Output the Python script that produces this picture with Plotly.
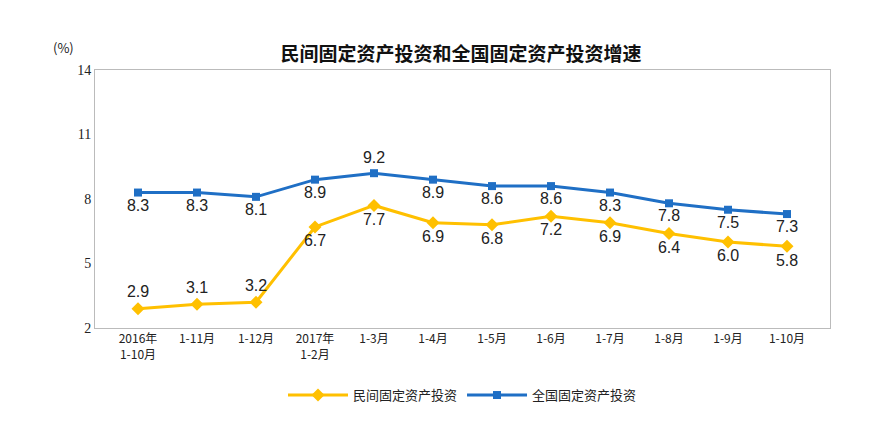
import plotly.graph_objects as go

categories = ["2016年<br>1-10月", "1-11月", "1-12月", "2017年<br>1-2月", "1-3月", "1-4月",
              "1-5月", "1-6月", "1-7月", "1-8月", "1-9月", "1-10月"]
private_inv = [2.9, 3.1, 3.2, 6.7, 7.7, 6.9, 6.8, 7.2, 6.9, 6.4, 6.0, 5.8]
national_inv = [8.3, 8.3, 8.1, 8.9, 9.2, 8.9, 8.6, 8.6, 8.3, 7.8, 7.5, 7.3]
y_ticks = [2, 5, 8, 11, 14]

font = "Noto Sans CJK SC"
priv_pos = ["top center"] * 3 + ["bottom center"] * 9
nat_pos = ["bottom center"] * 4 + ["top center"] + ["bottom center"] * 7

fig = go.Figure()
fig.add_trace(go.Scatter(x=categories, y=private_inv, name="民间固定资产投资",
    mode="lines+markers+text", text=[f"{v:.1f}" for v in private_inv], textposition=priv_pos,
    textfont=dict(size=16, color="#222", family="Arial"),
    line=dict(color="#FFC000", width=3), marker=dict(symbol="diamond", size=10, color="#FFC000")))
fig.add_trace(go.Scatter(x=categories, y=national_inv, name="全国固定资产投资",
    mode="lines+markers+text", text=[f"{v:.1f}" for v in national_inv], textposition=nat_pos,
    textfont=dict(size=16, color="#222", family="Arial"),
    line=dict(color="#1F6FC5", width=3), marker=dict(symbol="square", size=8, color="#1F6FC5")))

fig.update_layout(
    width=871, height=440, paper_bgcolor="white", plot_bgcolor="white",
    margin=dict(l=87, r=49, t=62, b=120),
    title=dict(text="<b>民间固定资产投资和全国固定资产投资增速</b>", x=0.52, y=0.91, xanchor="center",
               font=dict(size=19, family=font, color="#111")),
    font=dict(family=font, size=12, color="#222"),
    showlegend=True,
    legend=dict(orientation="h", x=0.5, xanchor="center", y=-0.26, yanchor="middle",
                font=dict(size=13), traceorder="normal", itemwidth=60),
    xaxis=dict(showline=True, linecolor="#BBB", mirror=True, showgrid=False,
               ticks="", tickfont=dict(size=12), fixedrange=True),
    yaxis=dict(range=[2, 14], tickvals=y_ticks, showgrid=False, showline=True,
               linecolor="#BBB", mirror=True, ticks="", tickfont=dict(size=14, family="Times New Roman"),
               fixedrange=True),
)
fig.add_annotation(text="(%)", xref="paper", yref="paper", x=-0.06, y=1.13,
                   showarrow=False, font=dict(size=13))
fig.write_html("out.html")
